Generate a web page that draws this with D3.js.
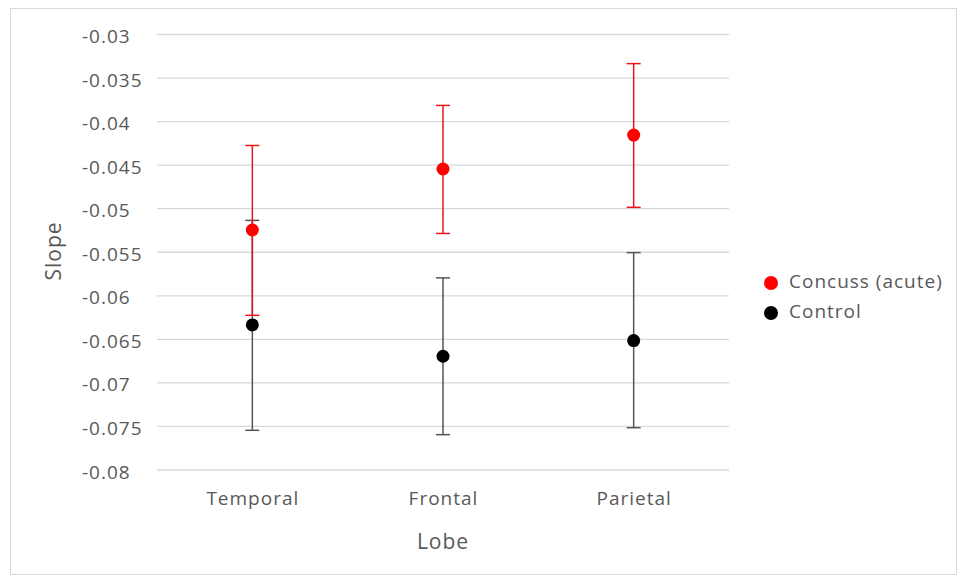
<!DOCTYPE html>
<html><head><meta charset="utf-8">
<script src="https://cdn.jsdelivr.net/npm/d3@7"></script>
<style>
body{margin:0;background:#fff;}
text{font-family:"Open Sans",sans-serif;fill:#595959;letter-spacing:1px;}
</style></head>
<body><svg id="c" width="959" height="579"></svg>
<script>
const categories = ["Temporal","Frontal","Parietal"];
const seriesNames = ["Concuss (acute)","Control"];
const concussMean  = [-0.0525,-0.0455,-0.0416];
const concussUpper = [-0.0428,-0.0382,-0.0334];
const concussLower = [-0.0623,-0.0529,-0.0499];
const controlMean  = [-0.0634,-0.0670,-0.0652];
const controlUpper = [-0.0514,-0.0580,-0.0551];
const controlLower = [-0.0755,-0.0760,-0.0752];
const yTicks = [-0.03,-0.035,-0.04,-0.045,-0.05,-0.055,-0.06,-0.065,-0.07,-0.075,-0.08];
const colors = ["#ff0000","#000000"];
const barColors = ["#e8151b","#555555"];

const svg = d3.select("#c");
svg.append("rect").attr("x",10.5).attr("y",8.5).attr("width",946).attr("height",566)
  .attr("fill","#fff").attr("stroke","#d9d9d9");

const x = d3.scalePoint().domain(categories).range([157,729]).padding(0.5);
const y = d3.scaleLinear().domain([-0.08,-0.03]).range([469.5,34]);

const yAxis = svg.append("g").attr("transform","translate(157,0)")
  .call(d3.axisLeft(y).tickValues(yTicks).tickSize(-572)
    .tickFormat(d=>String(+d.toFixed(3))));
yAxis.select(".domain").remove();
yAxis.selectAll(".tick line").attr("stroke","#d9d9d9").attr("stroke-width",1.3);
yAxis.selectAll(".tick text").attr("font-size",19).attr("fill","#595959").attr("font-family","Open Sans")
  .attr("text-anchor","start").attr("x",-75).attr("dy","0.45em");

const xAxis = svg.append("g").attr("transform","translate(0,469.5)")
  .call(d3.axisBottom(x).tickSize(0).tickPadding(22));
xAxis.select(".domain").remove();
xAxis.selectAll(".tick text").attr("font-size",19).attr("fill","#595959").attr("font-family","Open Sans");

svg.append("text").attr("x",443).attr("y",543).attr("text-anchor","middle")
  .attr("dominant-baseline","middle").attr("font-size",21).text("Lobe");
svg.append("text").attr("transform","translate(55,251) rotate(-90)").attr("text-anchor","middle")
  .attr("dominant-baseline","middle").attr("font-size",21).text("Slope");

const series = [
  {mean:concussMean, up:concussUpper, lo:concussLower},
  {mean:controlMean, up:controlUpper, lo:controlLower}
];
[1,0].forEach(si=>{
  const s = series[si];
  const g = svg.append("g");
  categories.forEach((c,i)=>{
    const cx = x(c);
    g.append("line").attr("x1",cx).attr("x2",cx).attr("y1",y(s.up[i])).attr("y2",y(s.lo[i]))
      .attr("stroke",barColors[si]).attr("stroke-width",1.5);
    [s.up[i],s.lo[i]].forEach(v=>{
      g.append("line").attr("x1",cx-7).attr("x2",cx+7).attr("y1",y(v)).attr("y2",y(v))
        .attr("stroke",barColors[si]).attr("stroke-width",1.5);
    });
  });
});
[1,0].forEach(si=>{
  const s = series[si];
  svg.append("g").selectAll("circle").data(categories).join("circle")
    .attr("cx",c=>x(c)).attr("cy",(c,i)=>y(s.mean[i])).attr("r",6.5).attr("fill",colors[si]);
});

const leg = svg.append("g");
seriesNames.forEach((n,i)=>{
  const ly = 283 + i*30;
  leg.append("circle").attr("cx",771).attr("cy",ly).attr("r",7).attr("fill",colors[i]);
  leg.append("text").attr("x",789).attr("y",ly).attr("dominant-baseline","middle")
    .attr("font-size",19).text(n);
});
</script></body></html>
